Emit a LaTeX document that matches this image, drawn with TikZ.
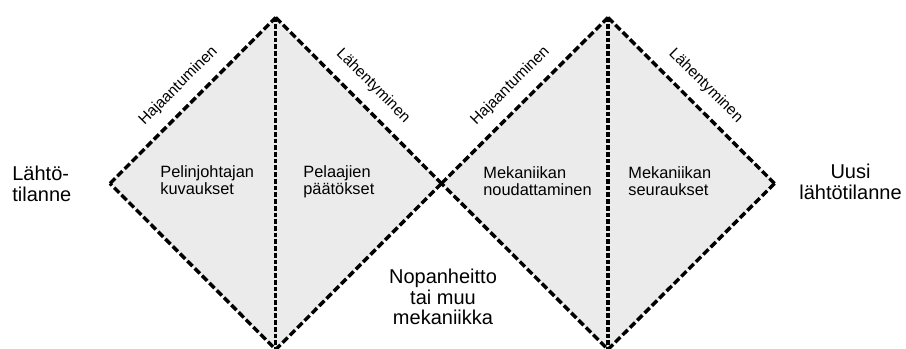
\documentclass[tikz,border=0pt]{standalone}
\usepackage{fontspec}
\setmainfont{Liberation Sans}
\usetikzlibrary{positioning, calc}
\definecolor{figgray}{HTML}{EBEBEB}
\tikzset{
  figedge/.style={line width=1.9pt, black, dash pattern=on 4pt off 1.7pt},
  figmid/.style={line width=1.9pt, black, dash pattern=on 2.6pt off 1.1pt},
  figtext/.style={font=\fontsize{9}{9.8}\selectfont, align=left, inner sep=0pt, anchor=base west},
  figbig/.style={font=\fontsize{11}{11.4}\selectfont, inner sep=0pt, anchor=base},
  figphase/.style={font=\fontsize{8.5}{9}\selectfont, sloped, above=3pt, midway},
}

\begin{document}
\begin{tikzpicture}[x=0.55pt, y=-0.55pt]
  \useasboundingbox (0,0) rectangle (906,349);
  % Kulmat
  \coordinate (l1) at (110,183.5);
  \coordinate (t1) at (275.75,17.5);
  \coordinate (m) at (441.5,183.5);
  \coordinate (b1) at (275.75,349.5);
  \coordinate (t2) at (608,17.5);
  \coordinate (r2) at (774.5,183.5);
  \coordinate (b2) at (608,349.5);
  \fill[figgray] (l1) -- (t1) -- (m) -- (b1) -- cycle;
  \fill[figgray] (m) -- (t2) -- (r2) -- (b2) -- cycle;
  % Reunat
  \draw[figedge] (l1) -- (t1) node[figphase] (div1) {Hajaantuminen};
  \draw[figedge] (t1) -- (m) node[figphase] (conv1) {Lähentyminen};
  \draw[figedge] (m) -- (b1) -- (l1);
  \draw[figedge] (m) -- (t2) node[figphase] (div2) {Hajaantuminen};
  \draw[figedge] (t2) -- (r2) node[figphase] (conv2) {Lähentyminen};
  \draw[figedge] (r2) -- (b2) -- (m);
  \draw[figmid] (t1) -- (b1);
  \draw[figmid] (t2) -- (b2);
  % Tekstit
  \node[figtext] (kuv) at (160,195) {Pelinjohtajan\\kuvaukset};
  \node[figtext] (paat) at (303,195) {Pelaajien\\päätökset};
  \node[figtext] (noud) at (483,196) {Mekaniikan\\noudattaminen};
  \node[figtext] (seur) at (628,196) {Mekaniikan\\seuraukset};
  \node[figbig, anchor=base west, align=left] (start) at (12,201.5) {Lähtö-\\tilanne};
  \node[figbig, align=center] (uusi) at (850.5,199.5) {Uusi\\lähtötilanne};
  \node[figbig, align=center] (noppa) at (443,325) {Nopanheitto\\tai muu\\mekaniikka};
\end{tikzpicture}
\end{document}
